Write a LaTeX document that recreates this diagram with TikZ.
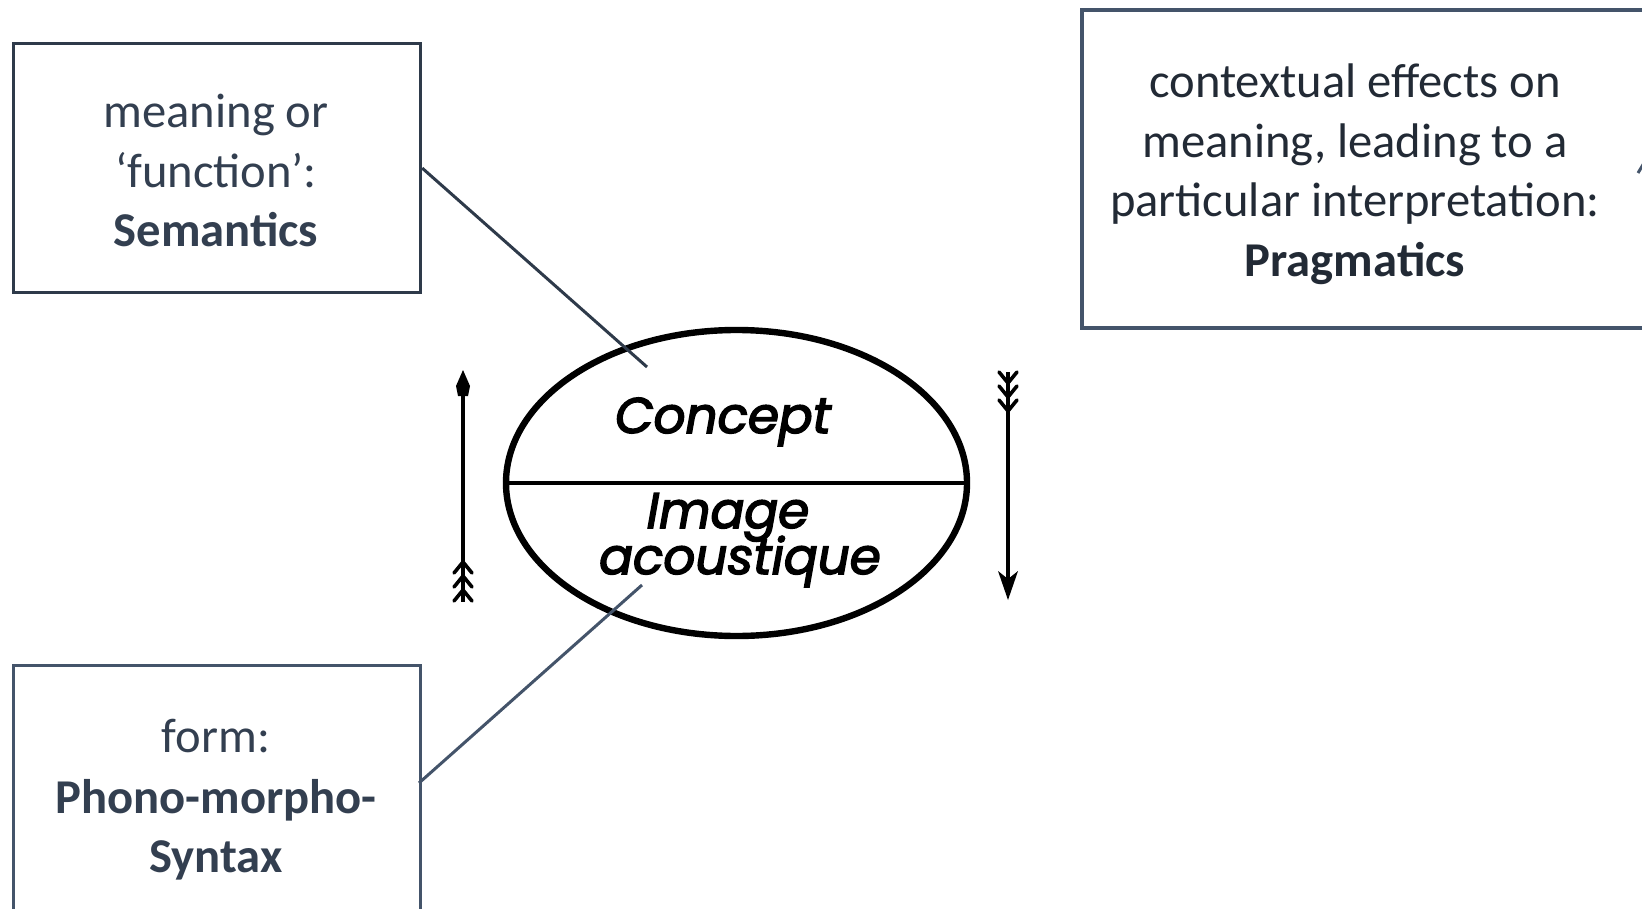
\documentclass[tikz,border=0pt]{standalone}
\usepackage{fontspec}
\setmainfont{Carlito}
\newfontfamily\geofont{Poppins}[FakeBold=3]
\usetikzlibrary{shapes.geometric}
\definecolor{semtext}{HTML}{333F50}
\definecolor{semline}{HTML}{2E3A4A}
\definecolor{pragtext}{HTML}{222A35}
\definecolor{pragline}{HTML}{44546A}
\begin{document}
\begin{tikzpicture}[x=0.5pt,y=-0.5pt,
  lbl/.style={anchor=base, inner sep=0pt, font=\fontsize{24.3pt}{29.7pt}\selectfont},
  boxstyle/.style={draw, anchor=north west, inner sep=0pt, line width=1.6pt},
  handtext/.style={anchor=base, inner sep=0pt, font=\geofont\itshape\fontsize{25pt}{28pt}\selectfont},
  connector/.style={line width=1.5pt},
  shaft/.style={line width=2.3pt, black},
  feather/.style={line width=1.8pt, black, line cap=round}
]
\useasboundingbox (0,0) rectangle (1642,909);
\clip (0,0) rectangle (1642,909);

% boxes
\node[boxstyle, draw=semline, minimum width=203.5pt, minimum height=124.5pt] (sembox) at (12,42) {};
\node[boxstyle, draw=pragline, line width=2pt, minimum width=310pt, minimum height=159pt] (pragbox) at (1080,8) {};
\node[boxstyle, draw=pragline, minimum width=203.5pt, minimum height=168pt] (formbox) at (12,664) {};

% texts
\node[lbl, text=semtext] (s1) at (216,128) {meaning or};
\node[lbl, text=semtext] (s2) at (216,188) {‘function’:};
\node[lbl, text=semtext, font=\fontsize{24.3pt}{29.7pt}\selectfont\bfseries] (s3) at (216,247) {Semantics};

\node[lbl, text=semtext] (f1) at (216,752) {form:};
\node[lbl, text=semtext, font=\fontsize{24.3pt}{29.7pt}\selectfont\bfseries] (f2) at (216,813) {Phono-morpho-};
\node[lbl, text=semtext, font=\fontsize{24.3pt}{29.7pt}\selectfont\bfseries] (f3) at (216,872) {Syntax};

\node[lbl, text=pragtext] (p1) at (1355,98) {contextual effects on};
\node[lbl, text=pragtext] (p2) at (1355,158) {meaning, leading to a};
\node[lbl, text=pragtext] (p3) at (1355,217) {particular interpretation:};
\node[lbl, text=pragtext, font=\fontsize{24.3pt}{29.7pt}\selectfont\bfseries] (p4) at (1355,277) {Pragmatics};

% the sign
\node[ellipse, draw=black, line width=3.2pt, minimum width=230.5pt, minimum height=153pt, inner sep=0pt] (sign) at (736.5,483) {};
\draw[black, line width=2pt] (sign.west) -- (sign.east);
\node[handtext] (concept) at (723,433) {Concept};
\node[handtext] (image) at (728,528) {Image};
\node[handtext] (acoustique) at (740,574) {acoustique};

% connectors
\coordinate (semend) at (647,367);
\coordinate (formstart) at (419,783);
\coordinate (formend) at (642,585);
\draw[connector, semline] (sembox.east) -- (semend);
\draw[connector, pragline] (formstart) -- (formend);
\coordinate (fragA) at (1638,173);
\coordinate (fragB) at (1644,163);
\draw[connector, pragline] (fragA) -- (fragB);

% left arrow (up)
\coordinate (ltop) at (463,370);
\coordinate (lbot) at (463,602);
\draw[shaft] (463,392) -- (lbot);
\fill[black] (ltop) -- (470,386) -- (468,396) -- (458,396) -- (456,386) -- cycle;
\foreach \yy in {562,576,590}{
  \draw[feather] (463,\yy) -- (454,\yy+11);
  \draw[feather] (463,\yy) -- (472,\yy+11);
}

% right arrow (down)
\coordinate (rtop) at (1008,372);
\coordinate (rbot) at (1008,600);
\draw[shaft] (rtop) -- (1008,582);
\fill[black] (rbot) -- (998,571) -- (1008,579) -- (1018,571) -- cycle;
\foreach \yy in {383,397,411}{
  \draw[feather] (1008,\yy) -- (999,\yy-11);
  \draw[feather] (1008,\yy) -- (1017,\yy-11);
}
\end{tikzpicture}
\end{document}
